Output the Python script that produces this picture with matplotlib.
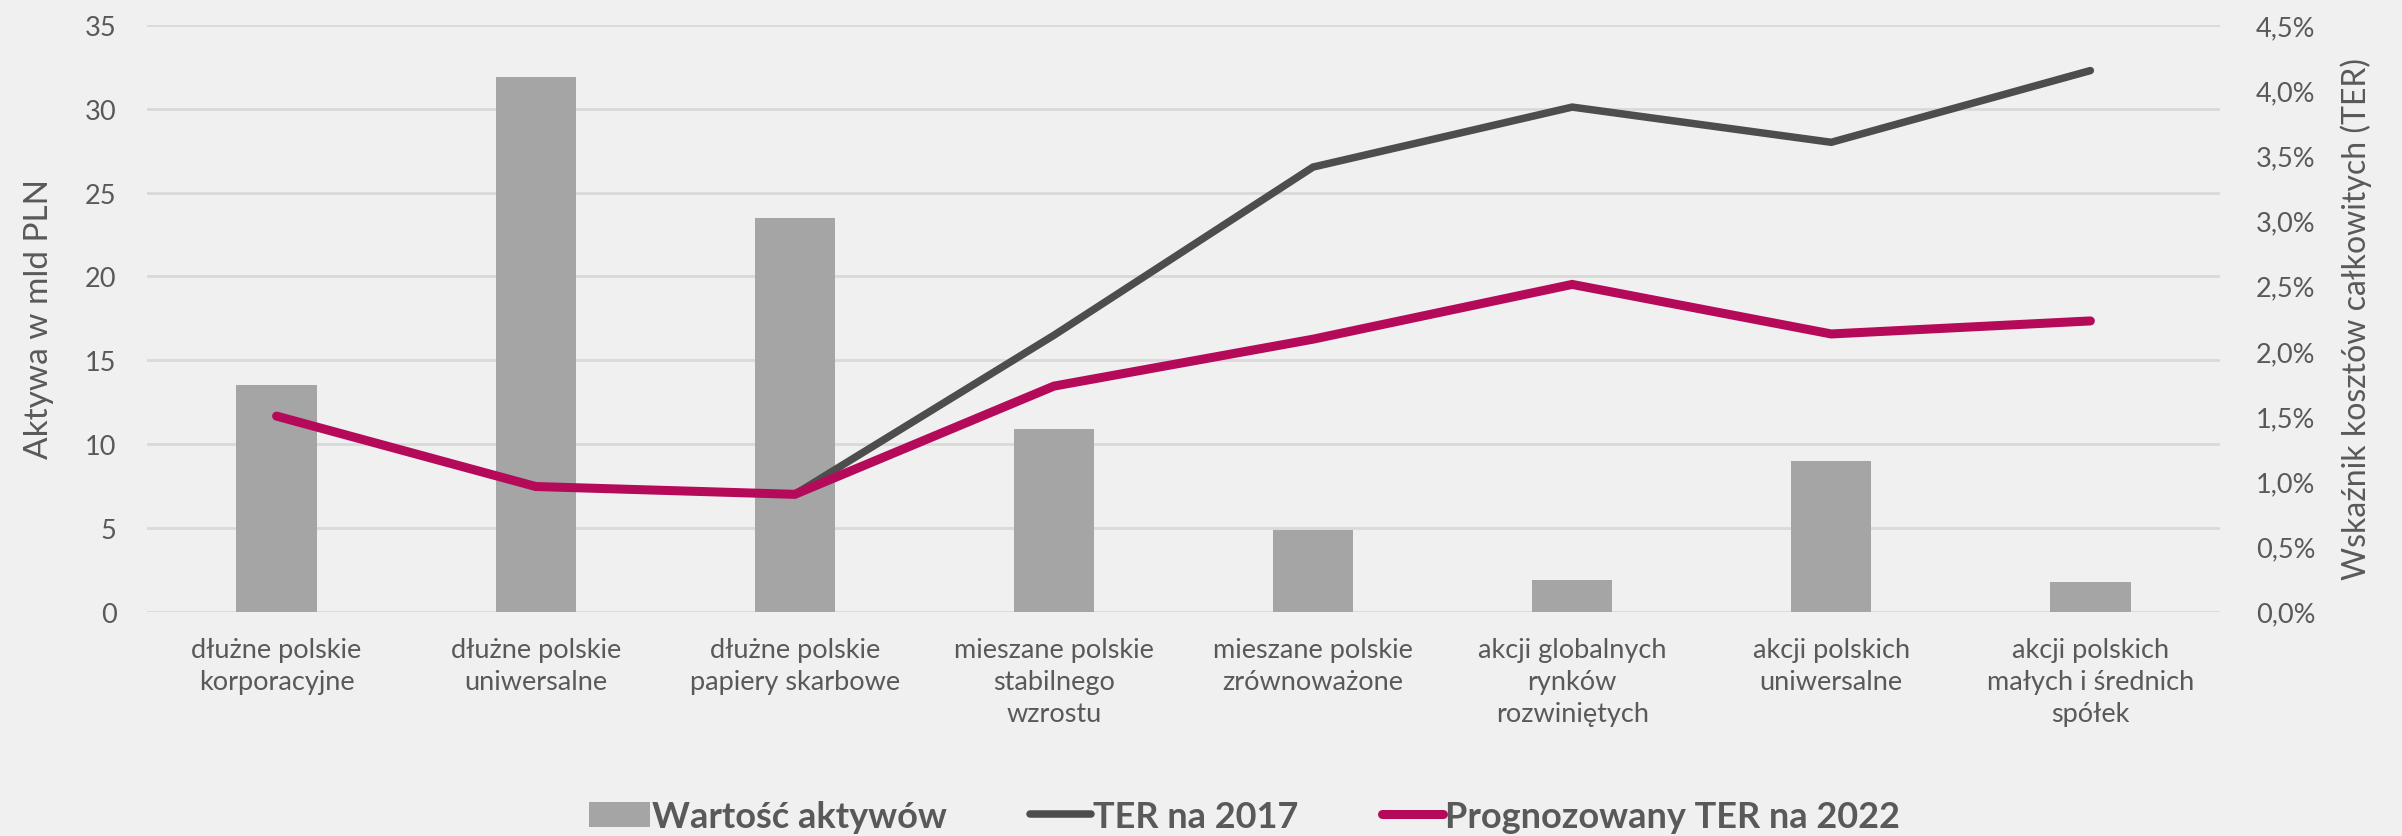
import numpy as np
import matplotlib.pyplot as plt
from matplotlib.ticker import FuncFormatter

# data
categories = ["dłużne polskie\nkorporacyjne", "dłużne polskie\nuniwersalne",
              "dłużne polskie\npapiery skarbowe", "mieszane polskie\nstabilnego\nwzrostu",
              "mieszane polskie\nzrównoważone", "akcji globalnych\nrynków\nrozwiniętych",
              "akcji polskich\nuniwersalne", "akcji polskich\nmałych i średnich\nspółek"]
aktywa = [13.5, 31.9, 23.5, 10.9, 4.9, 1.9, 9.0, 1.75]
ter_2017 = [np.nan, np.nan, 0.0090, 0.0212, 0.0341, 0.0387, 0.0360, 0.0415]
ter_2022 = [0.0150, 0.0096, 0.0090, 0.0173, 0.0209, 0.0251, 0.0213, 0.0223]

bg = '#F0F0F0'
txt = '#595959'
plt.rcParams['font.family'] = ['Lato', 'DejaVu Sans']

fig = plt.figure(figsize=(24.02, 8.37), dpi=100, facecolor=bg)
ax = fig.add_axes([0.0612, 0.268, 0.863, 0.701], facecolor=bg)
ax2 = ax.twinx()

x = np.arange(len(categories))
bars = ax.bar(x, aktywa, width=0.31, color='#A5A5A5', zorder=2, label='Wartość aktywów')
l1, = ax2.plot(x, ter_2017, color='#4D4D4D', lw=5.4, solid_capstyle='round',
               solid_joinstyle='miter', label='TER na 2017')
l2, = ax2.plot(x, ter_2022, color='#B5095A', lw=6.5, solid_capstyle='round',
               solid_joinstyle='miter', label='Prognozowany TER na 2022')

ax.set_xlim(-0.5, 7.5)
ax.set_ylim(0, 35)
ax.set_yticks(range(0, 36, 5))
ax2.set_ylim(0, 0.045)
ax2.set_yticks(np.arange(0, 0.0451, 0.005))
ax2.yaxis.set_major_formatter(FuncFormatter(lambda v, p: f"{v*100:.1f}%".replace('.', ',')))

ax.grid(axis='y', color='#D9D9D9', lw=2, zorder=0)
ax.set_axisbelow(True)
for a in (ax, ax2):
    for s in a.spines.values():
        s.set_visible(False)
    a.tick_params(length=0, labelsize=19.5, colors=txt)

ax.set_xticks(x)
ax.set_xticklabels(categories, fontsize=19.5, color=txt, linespacing=1.35)
ax.tick_params(axis='x', pad=18)
ax.tick_params(axis='y', pad=22)
ax2.tick_params(axis='y', pad=26)

ax.set_ylabel('Aktywa w mld PLN', fontsize=24, color=txt, labelpad=22)
ax2.set_ylabel('Wskaźnik kosztów całkowitych (TER)', fontsize=23, color=txt, labelpad=18)

fig.legend(handles=[bars, l1, l2], loc='lower center', bbox_to_anchor=(0.518, -0.035),
           ncol=3, frameon=False, handlelength=1.7, handletextpad=0.05,
           columnspacing=2.3, labelcolor=txt, prop={'weight': 'bold', 'size': 26})

fig.savefig('out.png', dpi=100, facecolor=bg)
